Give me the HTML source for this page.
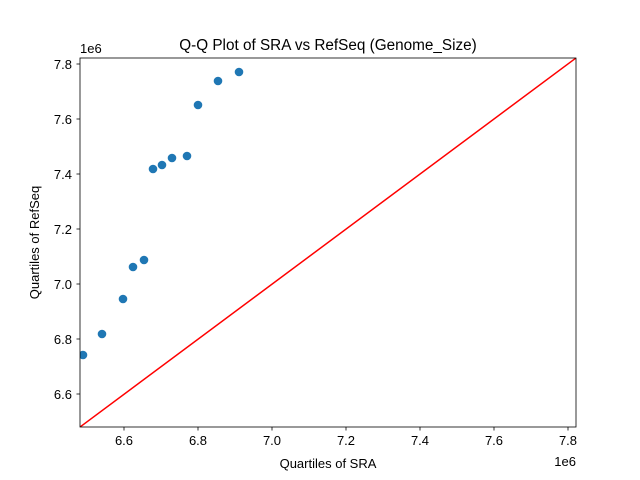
<!DOCTYPE html>
<html><head><meta charset="utf-8"><style>
body{margin:0;background:#fff}
svg{display:block;font-family:"Liberation Sans","DejaVu Sans",sans-serif}
</style></head><body>
<svg width="640" height="480" viewBox="0 0 640 480" xmlns="http://www.w3.org/2000/svg">
<rect width="640" height="480" fill="#fff"/>
<defs><clipPath id="c"><rect x="80" y="58" width="496" height="369"/></clipPath></defs>
<g clip-path="url(#c)">
<line x1="80" y1="427" x2="576" y2="58" stroke="#ff0000" stroke-width="1.5"/>
<g fill="#1f77b4">
<circle cx="83" cy="355" r="4.3"/><circle cx="102" cy="334" r="4.3"/><circle cx="123" cy="299" r="4.3"/>
<circle cx="133" cy="267" r="4.3"/><circle cx="144" cy="260" r="4.3"/><circle cx="153" cy="169" r="4.3"/>
<circle cx="162" cy="165" r="4.3"/><circle cx="172" cy="158" r="4.3"/><circle cx="187" cy="156" r="4.3"/>
<circle cx="198" cy="105" r="4.3"/><circle cx="218" cy="81" r="4.3"/><circle cx="239" cy="72" r="4.3"/>
</g></g>
<rect x="80" y="58" width="496" height="369" fill="none" stroke="#000" stroke-width="0.8"/>
<g stroke="#000" stroke-width="0.8">
<line x1="124" y1="427" x2="124" y2="430.5"/><line x1="198" y1="427" x2="198" y2="430.5"/>
<line x1="272" y1="427" x2="272" y2="430.5"/><line x1="346" y1="427" x2="346" y2="430.5"/>
<line x1="420" y1="427" x2="420" y2="430.5"/><line x1="494" y1="427" x2="494" y2="430.5"/>
<line x1="568" y1="427" x2="568" y2="430.5"/>
<line x1="76.5" y1="64" x2="80" y2="64"/><line x1="76.5" y1="119" x2="80" y2="119"/>
<line x1="76.5" y1="174" x2="80" y2="174"/><line x1="76.5" y1="229" x2="80" y2="229"/>
<line x1="76.5" y1="284" x2="80" y2="284"/><line x1="76.5" y1="339" x2="80" y2="339"/>
<line x1="76.5" y1="394" x2="80" y2="394"/>
</g>
<g font-size="13" fill="#000" text-anchor="middle">
<text x="124" y="445">6.6</text><text x="198" y="445">6.8</text><text x="272" y="445">7.0</text>
<text x="346" y="445">7.2</text><text x="420" y="445">7.4</text><text x="494" y="445">7.6</text>
<text x="568" y="445">7.8</text>
</g>
<g font-size="13" fill="#000" text-anchor="end">
<text x="72" y="69">7.8</text><text x="72" y="124">7.6</text><text x="72" y="179">7.4</text>
<text x="72" y="234">7.2</text><text x="72" y="289">7.0</text><text x="72" y="344">6.8</text>
<text x="72" y="399">6.6</text>
</g>
<text x="80" y="53" font-size="13">1e6</text>
<text x="576" y="466" font-size="13" text-anchor="end">1e6</text>
<text x="328" y="468" font-size="13" text-anchor="middle">Quartiles of SRA</text>
<text transform="translate(39,242.5) rotate(-90)" font-size="13" text-anchor="middle">Quartiles of RefSeq</text>
<text x="328" y="50" font-size="15.3" text-anchor="middle">Q-Q Plot of SRA vs RefSeq (Genome_Size)</text>
</svg>
</body></html>
